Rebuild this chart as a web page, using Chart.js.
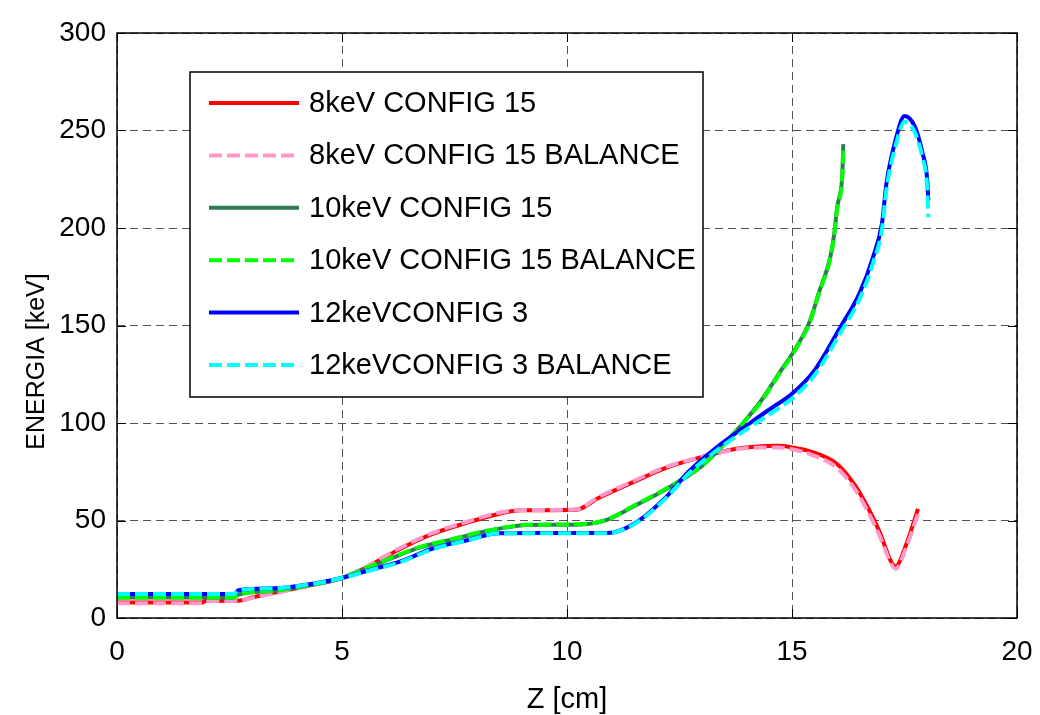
<!DOCTYPE html>
<html>
<head>
<meta charset="utf-8">
<script src="https://cdn.jsdelivr.net/npm/chart.js@4.4.1/dist/chart.umd.min.js"></script>
<style>
  html, body { margin: 0; padding: 0; background: #ffffff; }
  #wrap { width: 1040px; height: 715px; }
</style>
</head>
<body>
<div id="wrap"><canvas id="c" width="1040" height="715"></canvas></div>
<script>
// Energy vs. depth profiles (Z in cm, energy in keV)
const seriesLabels = [
  "8keV CONFIG 15",
  "8keV CONFIG 15 BALANCE",
  "10keV CONFIG 15",
  "10keV CONFIG 15 BALANCE",
  "12keVCONFIG 3",
  "12keVCONFIG 3 BALANCE"
];
const xTitle = "Z [cm]";
const yTitle = "ENERGIA [keV]";

const z8   = [0, 1.9, 1.95, 2.7, 3.0, 3.5, 4.2, 5.0, 5.5, 5.9, 6.3, 7.0, 7.8, 8.5, 9.0, 10.2, 10.7, 11.5, 12.2, 12.9, 13.7, 14.1, 14.7, 15.0, 15.4, 16.0, 16.4, 16.7, 16.95, 17.2, 17.3, 17.55, 17.8];
const e8   = [8, 8, 8.7, 8.9, 10.5, 13, 16.3, 20.5, 25.5, 30.5, 35.5, 43, 49, 53.5, 55.2, 55.5, 61.5, 70, 77, 82, 86.5, 87.7, 88.3, 87.5, 85.5, 79, 68, 56, 44, 29, 26.5, 38.5, 56];
const e8b  = [7.6, 7.6, 8.6, 8.8, 10.3, 12.8, 16.2, 20.6, 25.8, 31, 36, 43.5, 49.5, 54, 55.4, 55.6, 62, 70.5, 77.5, 82, 86.3, 87.2, 87.4, 86.5, 84, 77, 66, 54, 42, 28, 25.2, 37, 53.5];

const z10  = [0, 2.6, 2.7, 3.5, 4.2, 5.0, 5.6, 6.3, 6.7, 7.4, 8.1, 8.9, 9.1, 10.3, 10.9, 11.5, 12.2, 13.0, 13.4, 13.8, 14.3, 14.7, 15.1, 15.4, 15.6, 15.85, 15.95, 16.0, 16.1, 16.12, 16.14];
const e10  = [10.5, 10.5, 12, 14, 16.5, 20.5, 26, 32.5, 36, 40, 44, 47.3, 47.7, 48, 50.5, 57.5, 66, 78, 87, 97, 111, 125, 139, 152.5, 167, 185, 199, 210, 222, 228, 243];
const e10b = [10.5, 10.5, 12, 14, 16.5, 20.6, 26.2, 32.8, 36.2, 40.2, 44.2, 47.4, 47.8, 48.1, 50.6, 57.8, 66.3, 78.2, 87, 97, 110.5, 124.5, 138.5, 152, 166.5, 184.5, 198.5, 209.5, 221, 228, 242];

const z12  = [0, 2.6, 2.7, 3.5, 4.2, 5.0, 5.6, 6.3, 7.0, 7.8, 8.5, 10.9, 11.5, 12.2, 12.7, 13.3, 14.07, 14.5, 15.0, 15.5, 16.07, 16.5, 16.8, 17.0, 17.1, 17.3, 17.5, 17.73, 17.9, 18.0, 18.03];
const e12  = [12.3, 12.3, 14.2, 15.2, 17, 20.5, 24.5, 29, 35.5, 40, 43.5, 43.6, 48.5, 62, 75, 87, 100, 107, 115, 127, 149, 166.5, 185, 202.5, 223, 245, 257.5, 252, 238.5, 226, 214];
const e12b = [12.3, 12.3, 14.2, 15.2, 17, 20.5, 24.3, 28.7, 35.2, 39.8, 43.4, 43.5, 48.2, 61.5, 74, 85.5, 98, 104.5, 112.5, 124.5, 146, 163.5, 182, 199.5, 220, 242, 254.5, 249, 236, 222, 205.5];

const xTickStep = 5, xMin = 0, xMax = 20;
const yTickStep = 50, yMin = 0, yMax = 300;

const pts = (xs, ys) => xs.map((x, i) => ({ x: x, y: ys[i] }));

const FONT = "'Liberation Sans', Arial, Helvetica, sans-serif";

const lineStyle = (label, data, color, dashed, order) => ({
  label: label,
  data: data,
  borderColor: color,
  backgroundColor: color,
  borderWidth: 4,
  borderDash: dashed ? [13, 5] : [],
  borderCapStyle: 'butt',
  borderJoinStyle: 'round',
  pointRadius: 0,
  pointHoverRadius: 0,
  fill: false,
  cubicInterpolationMode: 'monotone',
  order: order
});

// Box around the plot with inward tick marks on all four sides
const frameTicks = {
  id: 'frameTicks',
  afterDatasetsDraw(chart) {
    const { ctx, chartArea: a, scales } = chart;
    const len = 9;
    ctx.save();
    ctx.strokeStyle = '#000';
    ctx.lineWidth = 1.5;
    ctx.setLineDash([]);
    ctx.strokeRect(a.left, a.top, a.right - a.left, a.bottom - a.top);
    ctx.beginPath();
    scales.x.ticks.forEach(t => {
      const px = Math.round(scales.x.getPixelForValue(t.value)) + 0.5;
      ctx.moveTo(px, a.bottom); ctx.lineTo(px, a.bottom - len);
      ctx.moveTo(px, a.top); ctx.lineTo(px, a.top + len);
    });
    scales.y.ticks.forEach(t => {
      const py = Math.round(scales.y.getPixelForValue(t.value)) + 0.5;
      ctx.moveTo(a.left, py); ctx.lineTo(a.left + len, py);
      ctx.moveTo(a.right, py); ctx.lineTo(a.right - len, py);
    });
    ctx.lineWidth = 1;
    ctx.stroke();
    ctx.restore();
  }
};

// Vertical axis title, rotated, beside the tick labels
const yAxisTitle = {
  id: 'yAxisTitle',
  afterDraw(chart) {
    const { ctx, chartArea: a } = chart;
    ctx.save();
    ctx.translate(37, (a.top + a.bottom) / 2 + 36);
    ctx.rotate(-Math.PI / 2);
    ctx.fillStyle = '#000';
    ctx.font = "25px " + FONT;
    ctx.textAlign = 'center';
    ctx.textBaseline = 'middle';
    ctx.fillText(yTitle, 0, 0);
    ctx.restore();
  }
};

// Legend drawn as a framed box inside the plot area
const boxLegend = {
  id: 'boxLegend',
  afterDraw(chart) {
    const { ctx, chartArea: a } = chart;
    const x0 = a.left + 73, y0 = a.top + 39, w = 513, h = 325;
    ctx.save();
    ctx.fillStyle = '#fff';
    ctx.fillRect(x0, y0, w, h);
    ctx.strokeStyle = '#000';
    ctx.lineWidth = 1.5;
    ctx.strokeRect(x0, y0, w, h);
    chart.data.datasets.forEach((ds, i) => {
      const cy = y0 + 31 + i * 52.4;
      ctx.strokeStyle = ds.borderColor;
      ctx.lineWidth = ds.borderWidth;
      ctx.lineCap = 'butt';
      ctx.setLineDash(ds.borderDash || []);
      ctx.beginPath();
      ctx.moveTo(x0 + 19, cy);
      ctx.lineTo(x0 + 109, cy);
      ctx.stroke();
      ctx.setLineDash([]);
      ctx.fillStyle = '#000';
      ctx.font = "29px " + FONT;
      ctx.textBaseline = 'middle';
      ctx.textAlign = 'left';
      ctx.fillText(ds.label, x0 + 119, cy + 1);
    });
    ctx.restore();
  }
};

new Chart(document.getElementById('c'), {
  type: 'line',
  data: {
    datasets: [
      lineStyle(seriesLabels[0], pts(z8, e8), '#ff0000', false, 6),
      lineStyle(seriesLabels[1], pts(z8, e8b), '#ff99cc', true, 5),
      lineStyle(seriesLabels[2], pts(z10, e10), '#2e7d57', false, 4),
      lineStyle(seriesLabels[3], pts(z10, e10b), '#00ff00', true, 3),
      lineStyle(seriesLabels[4], pts(z12, e12), '#0000ff', false, 2),
      lineStyle(seriesLabels[5], pts(z12, e12b), '#00ffff', true, 1)
    ]
  },
  options: {
    responsive: false,
    animation: false,
    layout: { padding: { top: 33, right: 23, left: 0, bottom: 0 } },
    plugins: {
      legend: { display: false },
      tooltip: { enabled: false }
    },
    scales: {
      x: {
        type: 'linear',
        min: xMin, max: xMax,
        ticks: {
          stepSize: xTickStep,
          color: '#000',
          padding: 17,
          maxRotation: 0,
          font: { family: FONT, size: 28 }
        },
        grid: { color: '#555', lineWidth: 1, drawTicks: false },
        border: { display: false, dash: [8, 5] },
        title: {
          display: true,
          text: xTitle,
          color: '#000',
          font: { family: FONT, size: 29, lineHeight: 1 },
          padding: { top: 0, bottom: 1 }
        },
        afterFit(scale) {
          scale.height = 97;
          scale.paddingLeft = 0;
          scale.paddingRight = 0;
        }
      },
      y: {
        type: 'linear',
        min: yMin, max: yMax,
        ticks: {
          stepSize: yTickStep,
          color: '#000',
          padding: 11,
          font: { family: FONT, size: 28 }
        },
        grid: { color: '#555', lineWidth: 1, drawTicks: false },
        border: { display: false, dash: [8, 5] },
        afterFit(scale) { scale.width = 117; }
      }
    }
  },
  plugins: [frameTicks, yAxisTitle, boxLegend]
});
</script>
</body>
</html>
